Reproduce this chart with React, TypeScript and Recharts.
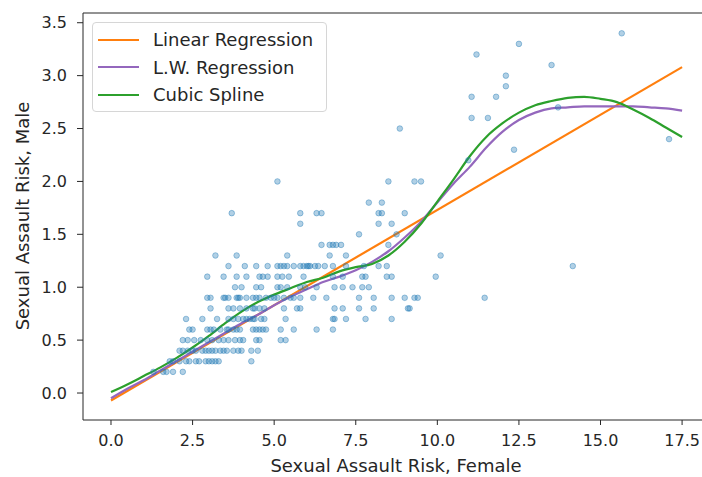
import { ComposedChart, Scatter, Line, XAxis, YAxis, Legend, ReferenceLine } from 'recharts'

const xTicks = [0, 2.5, 5, 7.5, 10, 12.5, 15, 17.5]
const yTicks = [0, 0.5, 1, 1.5, 2, 2.5, 3, 3.5]

// [female risk, male risk] for each observation
const riskPairs: [number, number][] = [
  [1.3, 0.2], [1.6, 0.2], [1.7, 0.2], [1.9, 0.2], [2.2, 0.2],
  [1.8, 0.3], [1.9, 0.3], [2.1, 0.3], [2.3, 0.3], [2.4, 0.3], [2.6, 0.3], [2.7, 0.3],
  [2.9, 0.3], [3.0, 0.3], [3.1, 0.3], [3.2, 0.3], [3.3, 0.3], [4.3, 0.3],
  [2.1, 0.4], [2.2, 0.4], [2.35, 0.4], [2.5, 0.4], [2.6, 0.4], [2.8, 0.4], [2.9, 0.4],
  [3.0, 0.4], [3.1, 0.4], [3.2, 0.4], [3.35, 0.4], [3.45, 0.4], [3.55, 0.4], [3.75, 0.4],
  [3.9, 0.4], [4.0, 0.4], [4.3, 0.4], [4.5, 0.4],
  [2.2, 0.5], [2.35, 0.5], [2.55, 0.5], [2.75, 0.5], [2.95, 0.5], [3.1, 0.5], [3.3, 0.5],
  [3.45, 0.5], [3.6, 0.5], [3.8, 0.5], [3.95, 0.5], [4.05, 0.5], [4.45, 0.5], [4.55, 0.5],
  [5.2, 0.5], [5.35, 0.5],
  [2.4, 0.6], [2.5, 0.6], [2.95, 0.6], [3.05, 0.6], [3.15, 0.6], [3.35, 0.6], [3.55, 0.6],
  [3.6, 0.6], [3.75, 0.6], [3.85, 0.6], [3.95, 0.6], [4.35, 0.6], [4.45, 0.6], [4.55, 0.6],
  [4.65, 0.6], [4.75, 0.6], [5.2, 0.6], [5.6, 0.6], [6.3, 0.6], [6.8, 0.6],
  [2.3, 0.7], [2.8, 0.7], [3.25, 0.7], [3.6, 0.7], [3.75, 0.7], [3.9, 0.7], [4.05, 0.7],
  [4.15, 0.7], [4.25, 0.7], [4.35, 0.7], [4.4, 0.7], [4.6, 0.7], [4.7, 0.7], [5.35, 0.7],
  [6.8, 0.7], [6.85, 0.7], [7.2, 0.7], [7.8, 0.7], [8.6, 0.7],
  [3.05, 0.8], [3.6, 0.8], [3.75, 0.8], [3.95, 0.8], [4.15, 0.8], [4.35, 0.8], [4.4, 0.8],
  [4.55, 0.8], [4.7, 0.8], [5.3, 0.8], [5.7, 0.8], [5.8, 0.8], [6.85, 0.8], [7.1, 0.8],
  [7.6, 0.8], [8.05, 0.8], [9.1, 0.8], [9.15, 0.8],
  [2.95, 0.9], [3.05, 0.9], [3.45, 0.9], [3.5, 0.9], [3.6, 0.9], [3.85, 0.9], [3.9, 0.9],
  [3.95, 0.9], [4.15, 0.9], [4.35, 0.9], [4.45, 0.9], [4.55, 0.9], [4.75, 0.9], [4.9, 0.9],
  [5.0, 0.9], [5.1, 0.9], [5.3, 0.9], [5.5, 0.9], [5.6, 0.9], [5.8, 0.9], [6.2, 0.9],
  [6.6, 0.9], [7.6, 0.9], [8.05, 0.9], [8.6, 0.9], [9.0, 0.9], [9.3, 0.9], [9.4, 0.9],
  [11.45, 0.9],
  [3.8, 1.0], [4.0, 1.0], [4.45, 1.0], [4.6, 1.0], [5.1, 1.0], [5.2, 1.0], [5.4, 1.0],
  [5.8, 1.0], [5.95, 1.0], [6.3, 1.0], [6.85, 1.0], [7.1, 1.0], [7.4, 1.0], [7.7, 1.0],
  [7.9, 1.0],
  [2.95, 1.1], [3.45, 1.1], [3.85, 1.1], [4.15, 1.1], [4.55, 1.1], [4.65, 1.1], [4.8, 1.1],
  [5.1, 1.1], [5.25, 1.1], [5.45, 1.1], [5.9, 1.1], [6.8, 1.1], [7.1, 1.1], [7.7, 1.1],
  [7.8, 1.1], [8.45, 1.1], [8.6, 1.1], [9.95, 1.1],
  [3.6, 1.2], [4.1, 1.2], [4.45, 1.2], [4.8, 1.2], [5.1, 1.2], [5.2, 1.2], [5.3, 1.2],
  [5.4, 1.2], [5.6, 1.2], [5.8, 1.2], [5.9, 1.2], [6.0, 1.2], [6.05, 1.2], [6.1, 1.2],
  [6.25, 1.2], [6.35, 1.2], [6.55, 1.2], [6.8, 1.2], [7.2, 1.2], [7.75, 1.2], [8.2, 1.2],
  [8.45, 1.2], [14.15, 1.2],
  [3.2, 1.3], [3.85, 1.3], [5.4, 1.3], [6.7, 1.3], [7.2, 1.3], [10.1, 1.3],
  [6.45, 1.4], [6.7, 1.4], [6.8, 1.4], [6.9, 1.4], [7.05, 1.4], [8.5, 1.4],
  [7.6, 1.5], [8.75, 1.5],
  [5.8, 1.6], [8.2, 1.6], [8.6, 1.6],
  [3.7, 1.7], [5.8, 1.7], [6.3, 1.7], [6.45, 1.7], [8.2, 1.7], [8.3, 1.7], [9.0, 1.7],
  [7.9, 1.8], [8.3, 1.8],
  [5.1, 2.0], [8.5, 2.0], [9.3, 2.0], [9.5, 2.0],
  [10.95, 2.2], [12.35, 2.3], [17.1, 2.4], [8.85, 2.5],
  [11.05, 2.6], [11.55, 2.6], [13.7, 2.7], [11.05, 2.8], [11.8, 2.8],
  [12.1, 2.9], [12.1, 3.0], [13.5, 3.1], [11.2, 3.2], [12.5, 3.3], [15.65, 3.4],
]

const linearX = [0, 17.5]
const linearY = [-0.07, 3.08]

const curveX = [
  0, 0.5, 1, 1.5, 2, 2.5, 3, 3.5, 4, 4.5, 5, 5.5, 6, 6.5, 7, 7.5, 8, 8.5,
  9, 9.5, 10, 10.5, 11, 11.5, 12, 12.5, 13, 13.5, 14, 14.5, 15, 15.5, 16, 16.5, 17, 17.5,
]
const lwY = [
  -0.05, 0.04, 0.12, 0.21, 0.3, 0.39, 0.48, 0.57, 0.66, 0.74, 0.83, 0.91, 0.98, 1.05, 1.1, 1.16, 1.24, 1.34,
  1.47, 1.62, 1.8, 1.98, 2.14, 2.32, 2.47, 2.58, 2.65, 2.69, 2.7, 2.71, 2.71, 2.71, 2.71, 2.7, 2.69, 2.67,
]
const splineY = [
  0.01, 0.08, 0.16, 0.24, 0.33, 0.43, 0.54, 0.66, 0.77, 0.86, 0.93, 0.99, 1.05, 1.09, 1.15, 1.19, 1.22, 1.3,
  1.43, 1.6, 1.81, 2.02, 2.24, 2.42, 2.55, 2.65, 2.72, 2.76, 2.79, 2.8, 2.78, 2.75, 2.68, 2.6, 2.51, 2.42,
]

const series = [
  { name: 'Linear Regression', color: '#ff7f0e' },
  { name: 'L.W. Regression', color: '#9467bd' },
  { name: 'Cubic Spline', color: '#2ca02c' },
]

const scatterData = riskPairs.map(([x, y]) => ({ x, y }))
const linearData = linearX.map((x, i) => ({ x, y: linearY[i] }))
const lwData = curveX.map((x, i) => ({ x, y: lwY[i] }))
const splineData = curveX.map((x, i) => ({ x, y: splineY[i] }))

const FONT = 'DejaVu Sans, sans-serif'
const INK = '#262626'
const X_DOMAIN = [-0.858, 18.11]
const Y_DOMAIN = [-0.255, 3.592]

const Dot = (props: any) => {
  const { cx, cy } = props
  if (cx == null || cy == null) return null
  return (
    <circle
      cx={cx}
      cy={cy}
      r={2.8}
      fill="#1f77b4"
      fillOpacity={0.35}
      stroke="#1f77b4"
      strokeOpacity={0.4}
      strokeWidth={1}
    />
  )
}

function LegendBox() {
  return (
    <div
      style={{
        width: 235,
        height: 90,
        boxSizing: 'border-box',
        border: '1px solid #d6d6d6',
        borderRadius: 4,
        background: 'rgba(255,255,255,0.8)',
        paddingTop: 3,
        fontFamily: FONT,
        fontSize: 18,
        color: INK,
      }}
    >
      {series.map((s) => (
        <div key={s.name} style={{ display: 'flex', alignItems: 'center', height: 27.5, whiteSpace: 'nowrap' }}>
          <span style={{ display: 'inline-block', width: 41, height: 2, background: s.color, marginLeft: 5, marginRight: 14 }} />
          {s.name}
        </div>
      ))}
    </div>
  )
}

export default function App() {
  const tickStyle = { fontSize: 16, fill: INK, fontFamily: FONT }
  return (
    <div style={{ position: 'absolute', left: 0, top: 0, width: 702, height: 477, background: '#fff' }}>
      <ComposedChart width={702} height={477} margin={{ top: 13, right: 0, bottom: 0, left: 0 }}>
        <XAxis
          type="number"
          dataKey="x"
          domain={X_DOMAIN}
          allowDataOverflow
          ticks={xTicks}
          tickFormatter={(v: number) => v.toFixed(1)}
          height={57}
          tickSize={5}
          tickMargin={10}
          tick={tickStyle}
          stroke={INK}
          label={{
            content: () => (
              <text x={396} y={472} textAnchor="middle" fontSize={18} fontFamily={FONT} fill={INK}>
                Sexual Assault Risk, Female
              </text>
            ),
          }}
        />
        <YAxis
          type="number"
          dataKey="y"
          domain={Y_DOMAIN}
          allowDataOverflow
          ticks={yTicks}
          tickFormatter={(v: number) => v.toFixed(1)}
          width={83}
          tickSize={6}
          tickMargin={10}
          tick={tickStyle}
          stroke={INK}
          label={{
            content: () => (
              <text
                x={29}
                y={216}
                transform="rotate(-90, 29, 216)"
                textAnchor="middle"
                fontSize={18}
                fontFamily={FONT}
                fill={INK}
              >
                Sexual Assault Risk, Male
              </text>
            ),
          }}
        />
        {/* top spine of the axes box */}
        <ReferenceLine y={Y_DOMAIN[1]} stroke={INK} strokeWidth={1} />
        <Scatter data={scatterData} shape={Dot} isAnimationActive={false} />
        <Line data={linearData} dataKey="y" type="linear" stroke={series[0].color} strokeWidth={2.2} dot={false} isAnimationActive={false} />
        <Line data={lwData} dataKey="y" type="monotone" stroke={series[1].color} strokeWidth={2.2} dot={false} isAnimationActive={false} />
        <Line data={splineData} dataKey="y" type="monotone" stroke={series[2].color} strokeWidth={2.2} dot={false} isAnimationActive={false} />
        <Legend
          layout="vertical"
          align="center"
          verticalAlign="middle"
          content={() => <LegendBox />}
          wrapperStyle={{ left: 92, top: 22, width: 235, height: 90 }}
        />
      </ComposedChart>
    </div>
  )
}
